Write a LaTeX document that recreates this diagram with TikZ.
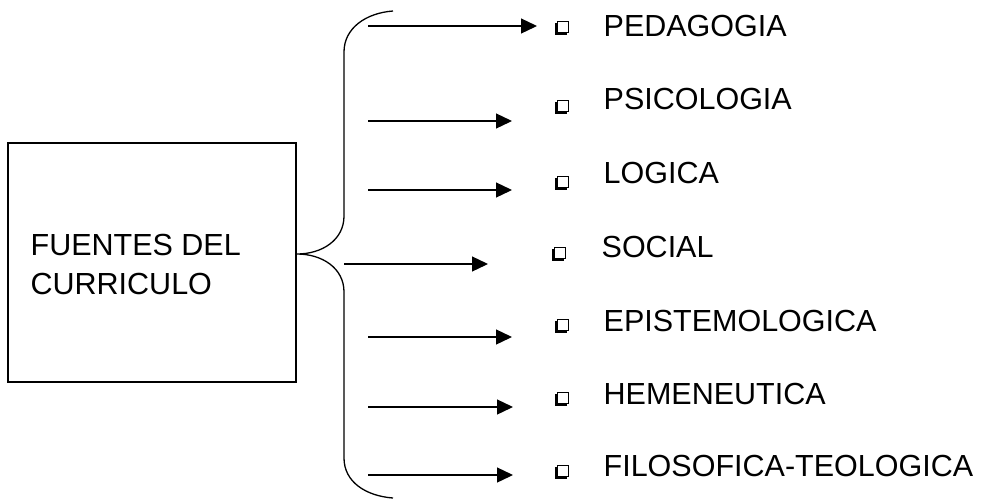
\documentclass[tikz,border=0pt]{standalone}
\usepackage{fontspec}
\setmainfont{Liberation Sans}
\usetikzlibrary{arrows.meta,shadows}
\begin{document}
\begin{tikzpicture}[x=1pt,y=-1pt,
  line width=1.3pt,
  txt/.style={inner sep=0pt,anchor=base west,font=\fontsize{30.5}{39}\selectfont},
  sqbullet/.style={draw,fill=white,line width=1.1pt,inner sep=0pt,
    minimum width=11.5pt,minimum height=11.5pt,
    drop shadow={shadow xshift=-2pt,shadow yshift=-2pt,fill=black,opacity=1}},
  feed/.style={-{Triangle[length=16pt,width=15pt]}},
]
\useasboundingbox (0,0) rectangle (993,499);

% main box with its title
\node[draw,inner sep=0pt,minimum width=288pt,minimum height=239pt] (box) at (152,262.5) {};
\node[txt] (t1) at (30,255) {FUENTES DEL};
\node[txt] (t2) at (30,294) {CURRICULO};

% curly brace
\draw (393,11) .. controls (366,13) and (344,28) .. (344,52)
  -- (344,216) .. controls (344,240) and (322,254) .. (297,254)
  .. controls (322,254) and (344,268) .. (344,292)
  -- (344,458) .. controls (344,482) and (366,496) .. (393,498);

% list entries
\node[txt] (n1) at (603,36)  {PEDAGOGIA};
\node[txt] (n2) at (603,109) {PSICOLOGIA};
\node[txt] (n3) at (603,183) {LOGICA};
\node[txt] (n4) at (601,257) {SOCIAL};
\node[txt] (n5) at (603,331) {EPISTEMOLOGICA};
\node[txt] (n6) at (603,404) {HEMENEUTICA};
\node[txt] (n7) at (603,476) {FILOSOFICA-TEOLOGICA};

\node[sqbullet] (b1) at (563,27)  {};
\node[sqbullet] (b2) at (563,106) {};
\node[sqbullet] (b3) at (563,182) {};
\node[sqbullet] (b4) at (560,253) {};
\node[sqbullet] (b5) at (563,325) {};
\node[sqbullet] (b6) at (563,398) {};
\node[sqbullet] (b7) at (563,471) {};

% arrows
\coordinate (s1) at (368,26);  \coordinate (e1) at (537,26);
\coordinate (s2) at (368,121); \coordinate (e2) at (512,121);
\coordinate (s3) at (368,190); \coordinate (e3) at (512,190);
\coordinate (s4) at (344,264); \coordinate (e4) at (488,264);
\coordinate (s5) at (368,337); \coordinate (e5) at (512,337);
\coordinate (s6) at (368,407); \coordinate (e6) at (513,407);
\coordinate (s7) at (368,475); \coordinate (e7) at (513,475);
\foreach \i in {1,...,7} \draw[feed] (s\i) -- (e\i);
\end{tikzpicture}
\end{document}
